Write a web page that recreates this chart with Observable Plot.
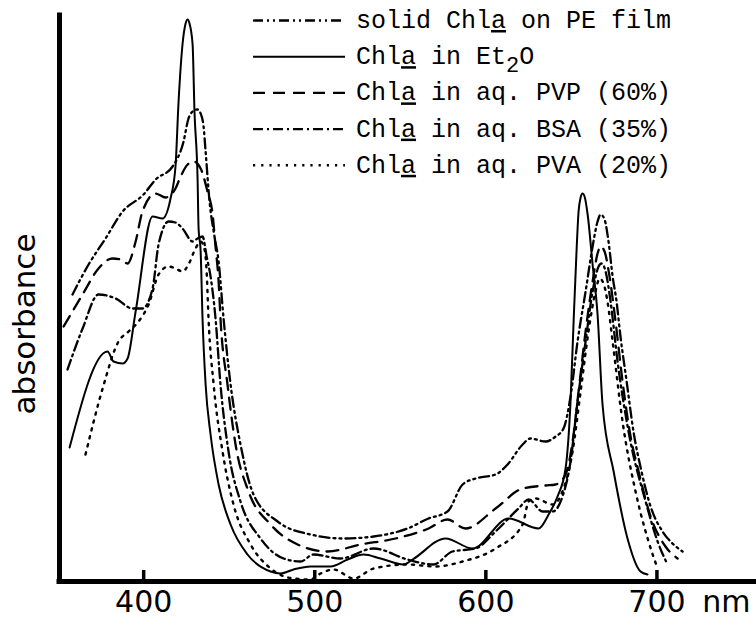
<!DOCTYPE html>
<html>
<head>
<meta charset="utf-8">
<script src="https://cdn.jsdelivr.net/npm/d3@7"></script>
<script src="https://cdn.jsdelivr.net/npm/@observablehq/plot@0.6"></script>
<style>
  html, body { margin: 0; padding: 0; background: #fff; }
  #chart svg { display: block; }
</style>
</head>
<body>
<div id="chart"></div>
<script>
// ---------- data (wavelength in nm, absorbance in arbitrary units) ----------
const tickValues = [400, 500, 600, 700];
const xUnit = "nm";
const yTitle = "absorbance";
const seriesNames = [
  "solid Chla on PE film",
  "Chla in Et2O",
  "Chla in aq. PVP (60%)",
  "Chla in aq. BSA (35%)",
  "Chla in aq. PVA (20%)"
];

const filmNm = [358.4, 367.8, 377.7, 387.7, 399.9, 407.0, 416.9, 423.3, 426.2, 428.6, 431.5, 433.3, 435.0, 436.2, 438.5, 441.4, 443.8, 446.7, 450.8, 456.6, 464.2, 478.3, 497.5, 516.8, 534.4, 554.2, 566.5, 577.6, 586.4, 594.0, 605.7, 612.7, 621.5, 626.1, 634.9, 640.8, 645.4, 649.5, 653.6, 658.3, 662.4, 665.3, 667.1, 669.4, 671.7, 674.1, 676.4, 678.7, 682.3, 686.3, 691.0, 696.3, 703.3, 709.1, 715.0];
const filmAbs = [0.574, 0.634, 0.686, 0.74, 0.774, 0.804, 0.83, 0.88, 0.926, 0.94, 0.944, 0.936, 0.91, 0.86, 0.76, 0.69, 0.64, 0.526, 0.394, 0.274, 0.174, 0.12, 0.094, 0.086, 0.09, 0.106, 0.126, 0.14, 0.194, 0.206, 0.214, 0.234, 0.274, 0.286, 0.28, 0.29, 0.306, 0.37, 0.48, 0.58, 0.67, 0.72, 0.734, 0.724, 0.68, 0.61, 0.56, 0.49, 0.4, 0.3, 0.22, 0.15, 0.1, 0.076, 0.06];

const etherNm = [356.7, 378.9, 382.4, 387.7, 390.6, 395.3, 405.2, 411.0, 415.7, 418.6, 420.4, 422.7, 424.5, 425.7, 426.8, 428.6, 429.7, 431.5, 432.1, 433.3, 434.4, 436.2, 439.1, 443.8, 450.8, 460.7, 474.2, 480.0, 487.6, 497.5, 509.2, 519.2, 528.5, 538.5, 551.9, 557.2, 576.5, 592.2, 613.3, 630.8, 636.7, 641.9, 646.6, 649.5, 651.3, 653.0, 654.2, 655.4, 656.5, 657.7, 659.5, 662.4, 665.3, 668.2, 674.7, 682.8, 690.4, 694.5];
const etherAbs = [0.268, 0.46, 0.44, 0.436, 0.446, 0.54, 0.73, 0.726, 0.766, 0.83, 0.96, 1.074, 1.116, 1.124, 1.116, 1.074, 0.94, 0.806, 0.706, 0.66, 0.526, 0.394, 0.294, 0.194, 0.114, 0.054, 0.02, 0.016, 0.024, 0.03, 0.03, 0.044, 0.054, 0.046, 0.034, 0.044, 0.086, 0.066, 0.126, 0.106, 0.134, 0.17, 0.226, 0.36, 0.52, 0.66, 0.74, 0.768, 0.776, 0.77, 0.734, 0.634, 0.534, 0.354, 0.22, 0.086, 0.02, 0.014];

const pvpNm = [353.2, 364.3, 373.6, 381.8, 386.5, 390.6, 395.3, 399.3, 407.0, 412.8, 418.6, 421.6, 425.7, 429.2, 433.3, 437.3, 440.3, 442.0, 443.8, 444.9, 449.0, 453.7, 461.3, 474.2, 490.0, 507.5, 526.8, 547.2, 566.5, 577.6, 588.1, 605.7, 621.5, 634.9, 640.8, 646.6, 650.7, 654.2, 658.3, 662.4, 665.3, 667.1, 669.4, 672.3, 675.8, 679.9, 684.6, 689.3, 696.3, 705.0, 712.1];
const pvpAbs = [0.51, 0.574, 0.626, 0.646, 0.644, 0.636, 0.68, 0.74, 0.776, 0.768, 0.786, 0.81, 0.834, 0.84, 0.826, 0.78, 0.734, 0.67, 0.6, 0.526, 0.394, 0.274, 0.18, 0.114, 0.074, 0.06, 0.074, 0.086, 0.106, 0.124, 0.106, 0.146, 0.186, 0.192, 0.194, 0.214, 0.28, 0.38, 0.5, 0.6, 0.656, 0.67, 0.66, 0.61, 0.52, 0.4, 0.29, 0.22, 0.13, 0.07, 0.046];

const bsaNm = [355.5, 364.3, 373.6, 383.6, 393.5, 399.3, 405.2, 408.7, 414.6, 418.6, 422.7, 428.6, 431.5, 434.4, 436.8, 439.1, 442.0, 444.9, 449.6, 456.6, 468.3, 481.8, 491.7, 499.3, 515.1, 534.4, 554.2, 569.4, 580.5, 594.0, 605.7, 619.1, 625.0, 633.2, 639.0, 644.8, 649.5, 653.6, 658.3, 662.4, 665.9, 667.6, 670.0, 672.9, 677.0, 683.4, 693.4, 700.4, 706.2];
const bsaAbs = [0.424, 0.506, 0.574, 0.566, 0.546, 0.546, 0.586, 0.674, 0.72, 0.718, 0.706, 0.68, 0.686, 0.69, 0.65, 0.61, 0.526, 0.394, 0.26, 0.16, 0.086, 0.046, 0.04, 0.054, 0.046, 0.066, 0.044, 0.034, 0.06, 0.066, 0.1, 0.146, 0.164, 0.14, 0.14, 0.17, 0.24, 0.36, 0.48, 0.58, 0.63, 0.636, 0.62, 0.56, 0.44, 0.3, 0.16, 0.08, 0.034];

const pvaNm = [366.0, 376.0, 385.3, 391.2, 397.0, 402.9, 408.7, 414.6, 418.6, 422.7, 426.2, 430.3, 433.3, 435.6, 436.8, 437.9, 440.9, 446.1, 452.5, 462.5, 474.2, 487.6, 497.5, 503.4, 511.0, 522.7, 534.4, 554.2, 570.6, 586.4, 605.7, 621.5, 625.0, 629.1, 639.0, 644.8, 650.7, 655.4, 660.0, 664.1, 666.5, 668.8, 671.1, 674.1, 679.9, 687.5, 695.1, 700.4];
const pvaAbs = [0.254, 0.386, 0.48, 0.5, 0.52, 0.554, 0.614, 0.63, 0.626, 0.62, 0.634, 0.666, 0.68, 0.664, 0.62, 0.526, 0.394, 0.26, 0.154, 0.074, 0.026, 0.006, 0.004, 0.016, 0.024, 0.006, 0.026, 0.034, 0.03, 0.04, 0.066, 0.114, 0.16, 0.166, 0.154, 0.18, 0.26, 0.38, 0.5, 0.58, 0.606, 0.596, 0.56, 0.48, 0.32, 0.18, 0.08, 0.026];

// ---------- styling (kept apart from data) ----------
const xDomain = [350.8, 758.2];
const yDomain = [0, 1.132];
const dashes = ["10,4,2,4,2,4", null, "12,8", "10,4,2,4", "2.2,6"];
const widths = [2.3, 2.0, 2.3, 2.3, 2.4];

function rows(nm, a) {
  const n = Math.min(nm.length, a.length);
  return d3.range(n).map(i => ({nm: nm[i], A: a[i]}));
}
const seriesData = [
  rows(filmNm, filmAbs),
  rows(etherNm, etherAbs),
  rows(pvpNm, pvpAbs),
  rows(bsaNm, bsaAbs),
  rows(pvaNm, pvaAbs)
];

const lineMarks = seriesData.map((d, i) => Plot.line(d, {
  x: "nm", y: "A", curve: "monotone-x",
  stroke: "black", strokeWidth: widths[i],
  strokeDasharray: dashes[i] || undefined,
  strokeLinejoin: "round"
}));

const chart = Plot.plot({
  width: 756,
  height: 618,
  marginLeft: 59,
  marginRight: 0,
  marginTop: 15,
  marginBottom: 37,
  x: {domain: xDomain, label: null},
  y: {domain: yDomain, axis: null},
  style: {fontFamily: "DejaVu Sans", background: "white", color: "black", overflow: "visible"},
  marks: [
    ...lineMarks,
    Plot.ruleX(tickValues, {y1: 0, y2: 0.022, strokeWidth: 3.5, stroke: "black"}),
    Plot.ruleX([xDomain[0]], {strokeWidth: 5, stroke: "black", strokeLinecap: "square"}),
    Plot.ruleY([0], {strokeWidth: 5, stroke: "black", strokeLinecap: "square"}),
    Plot.axisX(tickValues, {tickSize: 0, tickPadding: 9, fontSize: 30, label: null, tickFormat: d => String(d)}),
    Plot.text([xUnit], {text: d => d, frameAnchor: "bottom-right", textAnchor: "end", lineAnchor: "top", dx: -6, dy: 9, fontSize: 30})
  ]
});
document.getElementById("chart").appendChild(chart);

const svg = d3.select(chart);

// ---------- y title (rotated, left of the axis) ----------
svg.append("text")
  .attr("transform", "translate(24,324) rotate(-90)")
  .attr("text-anchor", "middle")
  .attr("dominant-baseline", "central")
  .attr("font-family", "DejaVu Sans")
  .attr("font-size", 31)
  .attr("fill", "black")
  .text(yTitle);

// ---------- legend (overlaid at top right, as in the reference) ----------
const lg = svg.append("g").attr("class", "legend")
  .attr("font-family", "'Liberation Mono', 'DejaVu Sans Mono', monospace")
  .attr("font-size", 25).attr("fill", "black")
  .attr("text-anchor", "start");
seriesNames.forEach((name, i) => {
  const base = 28 + i * 36.2;
  const ln = lg.append("line")
    .attr("x1", 253).attr("x2", 345)
    .attr("y1", base - 7.5).attr("y2", base - 7.5)
    .attr("stroke", "black").attr("stroke-width", widths[i]);
  if (dashes[i]) ln.attr("stroke-dasharray", dashes[i]);
  const t = lg.append("text").attr("x", 356).attr("y", base)
    .attr("text-anchor", "start").style("white-space", "pre");
  const parts = name.split(/(Chla|Et2O)/).filter(s => s.length);
  parts.forEach(p => {
    if (p === "Chla") {
      t.append("tspan").text("Chl");
      t.append("tspan").attr("text-decoration", "underline").text("a");
    } else if (p === "Et2O") {
      t.append("tspan").text("Et");
      t.append("tspan").attr("dy", 8).attr("font-size", 22).text("2");
      t.append("tspan").attr("dy", -8).text("O");
    } else {
      t.append("tspan").text(p);
    }
  });
});
</script>
</body>
</html>
